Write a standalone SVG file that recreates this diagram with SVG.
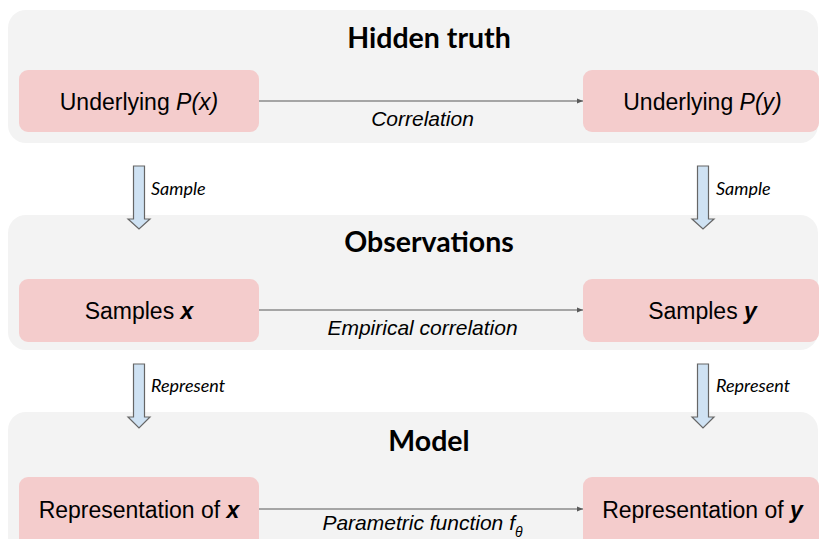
<svg xmlns="http://www.w3.org/2000/svg" width="820" height="539" viewBox="0 0 820 539">
  <defs>
    <marker id="head" viewBox="0 0 10 10" refX="10" refY="5" markerWidth="6" markerHeight="6" markerUnits="userSpaceOnUse" orient="auto">
      <path d="M0,1 L10,5 L0,9 z" fill="#595959"/>
    </marker>
    <style>
      .panel { fill: #f3f3f3; }
      .node rect { fill: #f4cccc; }
      .node text { font-family: "Liberation Sans", Arial, sans-serif; font-size: 23px; fill: #000; text-anchor: middle; }
      .title { font-family: Lato, "Liberation Sans", sans-serif; font-weight: bold; font-size: 28.5px; fill: #000; text-anchor: middle; }
      .link { stroke: #595959; stroke-width: 1.2; fill: none; marker-end: url(#head); }
      .linklabel { font-family: "Liberation Sans", Arial, sans-serif; font-style: italic; font-size: 21px; fill: #000; text-anchor: middle; }
      .block { fill: #cfe2f3; stroke: #666666; stroke-width: 1.2; }
      .blocklabel { font-family: Lato, "Liberation Sans", sans-serif; font-style: italic; font-size: 18px; fill: #000; }
    </style>
  </defs>

  <rect width="820" height="539" fill="#ffffff"/>

  <!-- layer panels -->
  <g id="panel-hidden">
    <rect class="panel" x="8" y="10" width="810" height="133" rx="18"/>
    <text class="title" x="429" y="48">Hidden truth</text>
  </g>
  <g id="panel-observations">
    <rect class="panel" x="8" y="215" width="810" height="135" rx="18"/>
    <text class="title" x="429" y="252">Observations</text>
  </g>
  <g id="panel-model">
    <rect class="panel" x="8" y="412" width="810" height="160" rx="18"/>
    <text class="title" x="429" y="451">Model</text>
  </g>

  <!-- nodes -->
  <g id="px" class="node">
    <rect x="19" y="70" width="240" height="62" rx="9"/>
    <text x="139" y="110">Underlying <tspan font-style="italic">P(x)</tspan></text>
  </g>
  <g id="py" class="node">
    <rect x="583" y="70" width="236" height="62" rx="9"/>
    <text x="702.5" y="110">Underlying <tspan font-style="italic">P(y)</tspan></text>
  </g>
  <g id="samples-x" class="node">
    <rect x="19" y="279" width="240" height="63" rx="9"/>
    <text x="139" y="319">Samples <tspan font-style="italic" font-weight="bold">x</tspan></text>
  </g>
  <g id="samples-y" class="node">
    <rect x="583" y="279" width="236" height="63" rx="9"/>
    <text x="702.5" y="319">Samples <tspan font-style="italic" font-weight="bold">y</tspan></text>
  </g>
  <g id="repr-x" class="node">
    <rect x="19" y="477" width="240" height="70" rx="9"/>
    <text x="139" y="518">Representation of <tspan font-style="italic" font-weight="bold">x</tspan></text>
  </g>
  <g id="repr-y" class="node">
    <rect x="583" y="477" width="236" height="70" rx="9"/>
    <text x="702.5" y="518">Representation of <tspan font-style="italic" font-weight="bold">y</tspan></text>
  </g>

  <!-- connectors -->
  <g id="connectors">
    <line class="link" x1="259" y1="101" x2="583" y2="101"/>
    <text class="linklabel" x="422.5" y="126">Correlation</text>

    <line class="link" x1="259" y1="310" x2="583" y2="310"/>
    <text class="linklabel" x="422.5" y="335">Empirical correlation</text>

    <line class="link" x1="259" y1="509" x2="583" y2="509"/>
    <text class="linklabel" x="422.5" y="530">Parametric function f<tspan font-size="14" dy="7">θ</tspan></text>

    <!-- block arrows between layers -->
    <path class="block" d="M133.5,166 H144.5 V219 H150 L139,229 L128,219 H133.5 Z"/>
    <text class="blocklabel" x="151" y="195">Sample</text>
    <path class="block" d="M697.5,166 H708.5 V219 H714 L703,229 L692,219 H697.5 Z"/>
    <text class="blocklabel" x="716" y="195">Sample</text>

    <path class="block" d="M133.5,364 H144.5 V417 H150 L139,428 L128,417 H133.5 Z"/>
    <text class="blocklabel" x="151" y="392">Represent</text>
    <path class="block" d="M697.5,364 H708.5 V417 H714 L703,428 L692,417 H697.5 Z"/>
    <text class="blocklabel" x="716" y="392">Represent</text>
  </g>
</svg>
